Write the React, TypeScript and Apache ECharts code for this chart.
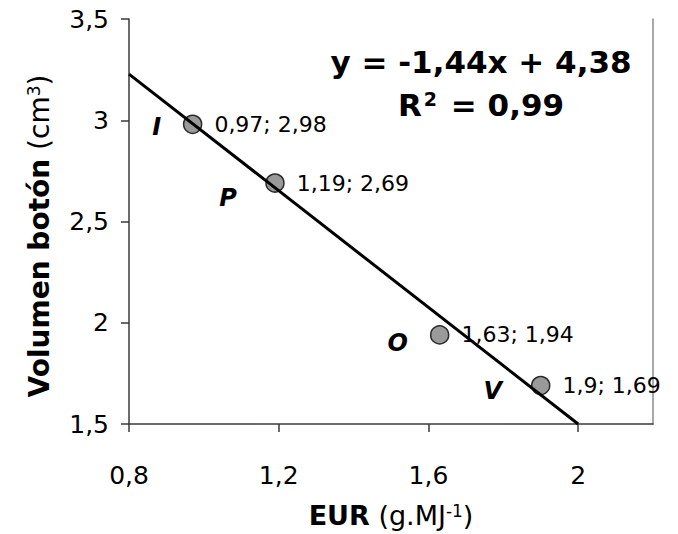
import React, { useEffect, useRef } from 'react';
import * as echarts from 'echarts';

// Cultivares y sus valores medidos
const cultivares = ['I', 'P', 'O', 'V'];
const eur = [0.97, 1.19, 1.63, 1.9];
const volumen = [2.98, 2.69, 1.94, 1.69];

// Marcas de los ejes
const xTicks = [0.8, 1.2, 1.6, 2];
const yTicks = [1.5, 2, 2.5, 3, 3.5];

// Recta de regresión ajustada
const slope = -1.44;
const intercept = 4.38;
const r2 = 0.99;
const trendFrom = 0.8;
const trendTo = 2.0;

// Desplazamiento (px) de la letra de cada cultivar respecto a su punto
const letterOffsets = [
  [-36, 3],
  [-47, 15],
  [-42, 8],
  [-48, 5],
];

const FONT = '"DejaVu Sans", Verdana, sans-serif';
const dec = (v: number) => String(v).replace('.', ',');

const titleRich = (size: number) => ({
  b: { fontSize: size, fontWeight: 'bold', color: '#000', fill: '#000', fontFamily: FONT },
  n: { fontSize: size, color: '#000', fill: '#000', fontFamily: FONT },
  s: { fontSize: 17, color: '#000', fill: '#000', fontFamily: FONT, verticalAlign: 'top' },
});

export default function App() {
  const ref = useRef<HTMLDivElement>(null);

  useEffect(() => {
    if (!ref.current) return;
    const chart = echarts.init(ref.current, undefined, { renderer: 'svg' });

    const points = eur.map((x, i) => [x, volumen[i]]);
    const trend = [trendFrom, trendTo].map((x) => [x, +(slope * x + intercept).toFixed(4)]);

    const axisLineStyle = { color: '#3a3a3a', width: 1.5 };

    chart.setOption({
      animation: false,
      backgroundColor: '#ffffff',
      textStyle: { fontFamily: FONT },
      grid: { left: 129, right: 25, top: 19, bottom: 110, outerBoundsMode: 'none', containLabel: false },
      xAxis: {
        type: 'value',
        min: 0.8,
        max: 2.2,
        interval: 0.4,
        axisLine: { show: true, onZero: false, lineStyle: axisLineStyle },
        axisTick: { show: true, inside: false, length: 8, customValues: xTicks, lineStyle: axisLineStyle },
        axisLabel: {
          customValues: xTicks,
          formatter: (v: number) => dec(v),
          fontSize: 25,
          color: '#000',
          fontFamily: FONT,
          margin: 39,
        },
        splitLine: { show: false },
        name: '{b|EUR}{n| (g.MJ}{s|-1}{n|)}',
        nameLocation: 'middle',
        nameGap: 78,
        nameTextStyle: { rich: titleRich(27) },
      },
      yAxis: [
        {
          type: 'value',
          min: 1.5,
          max: 3.5,
          interval: 0.5,
          axisLine: { show: true, onZero: false, lineStyle: axisLineStyle },
          axisTick: { show: true, inside: false, length: 8, customValues: yTicks, lineStyle: axisLineStyle },
          axisLabel: {
            customValues: yTicks,
            formatter: (v: number) => dec(v),
            fontSize: 25,
            color: '#000',
            fontFamily: FONT,
            margin: 20,
          },
          splitLine: { show: false },
        },
        {
          type: 'value',
          position: 'right',
          min: 1.5,
          max: 3.5,
          interval: 0.5,
          axisLine: { show: true, onZero: false, lineStyle: { color: '#8c8c8c', width: 1.5 } },
          axisTick: { show: false },
          axisLabel: { show: false },
          splitLine: { show: false },
        },
      ],
      graphic: [
        {
          // Título del eje vertical
          type: 'text',
          x: 39,
          y: 236,
          rotation: Math.PI / 2,
          silent: true,
          style: {
            text: '{b|Volumen botón}{n| (cm}{s|3}{n|)}',
            textAlign: 'center',
            textVerticalAlign: 'middle',
            rich: titleRich(28),
          },
        },
        {
          type: 'text',
          x: 481,
          y: 62,
          silent: true,
          style: {
            text: `y = ${dec(slope)}x + ${dec(intercept)}`,
            font: `bold 31px ${FONT}`,
            fill: '#000',
            textAlign: 'center',
            textVerticalAlign: 'middle',
          },
        },
        {
          type: 'text',
          x: 481,
          y: 105,
          silent: true,
          style: {
            text: `{m|R}{s|2}{m| = ${dec(r2)}}`,
            textAlign: 'center',
            textVerticalAlign: 'middle',
            rich: {
              m: { fontSize: 31, fontWeight: 'bold', fontFamily: FONT, fill: '#000' },
              s: { fontSize: 19, fontWeight: 'bold', fontFamily: FONT, fill: '#000', verticalAlign: 'top', padding: [0, 3, 0, 2] },
            },
          },
        },
      ],
      series: [
        {
          type: 'scatter',
          z: 2,
          silent: true,
          data: points,
          symbol: 'circle',
          symbolSize: 18,
          itemStyle: { color: '#9a9a9a', borderColor: '#2b2b2b', borderWidth: 1.5, opacity: 1 },
          label: {
            show: true,
            position: 'right',
            distance: 12,
            fontSize: 22,
            color: '#000',
            fontFamily: FONT,
            formatter: (p: any) => `${dec(p.value[0])}; ${dec(p.value[1])}`,
          },
        },
        {
          type: 'scatter',
          z: 2,
          silent: true,
          symbolSize: 1,
          itemStyle: { color: 'rgba(0,0,0,0)', borderWidth: 0 },
          data: points.map((pt, i) => ({
            value: pt,
            name: cultivares[i],
            label: { offset: letterOffsets[i] },
          })),
          label: {
            show: true,
            position: 'inside',
            fontSize: 24,
            fontWeight: 'bold',
            fontStyle: 'italic',
            color: '#000',
            opacity: 1,
            textBorderWidth: 0,
            fontFamily: FONT,
            formatter: (p: any) => p.name,
          },
        },
        {
          type: 'line',
          z: 3,
          silent: true,
          data: trend,
          symbol: 'none',
          lineStyle: { color: '#000', width: 3 },
        },
      ],
    });

    return () => chart.dispose();
  }, []);

  return (
    <div
      ref={ref}
      style={{ position: 'fixed', left: 0, top: 0, width: 678, height: 534, background: '#fff' }}
    />
  );
}
